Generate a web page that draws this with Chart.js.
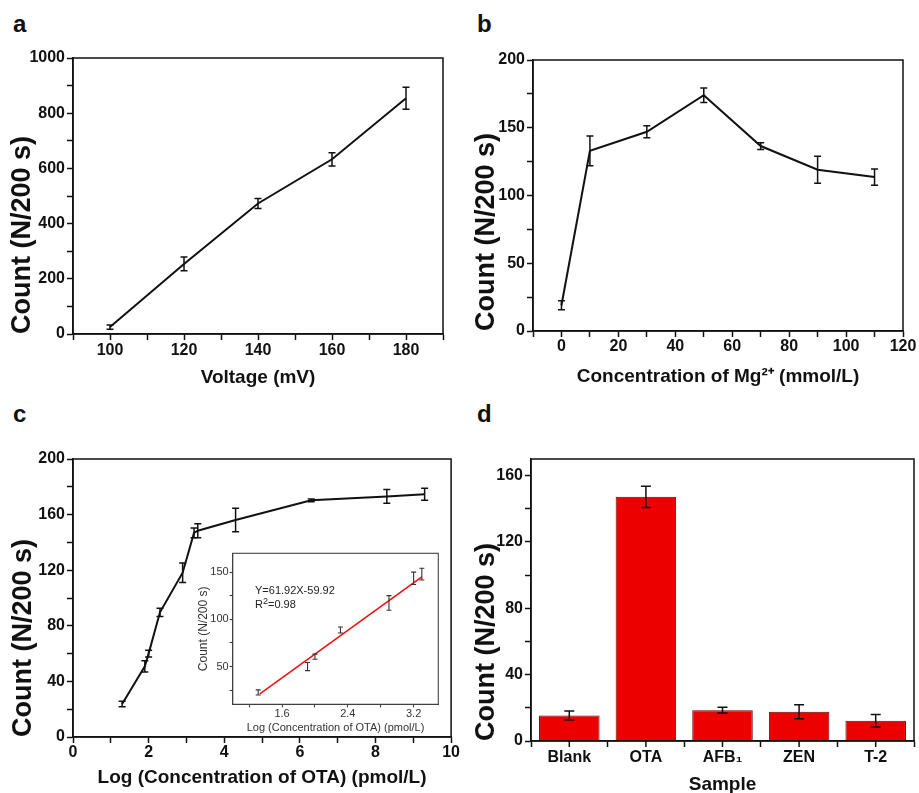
<!DOCTYPE html>
<html lang="en">
<head>
<meta charset="UTF-8">
<title>Count panels</title>
<script src="https://cdn.jsdelivr.net/npm/chart.js"></script>
<style>
  body { margin: 0; background: #fff; width: 919px; height: 793px; overflow: hidden; position: relative;
         font-family: 'Liberation Sans', Arial, sans-serif; }
  canvas { position: absolute; }
  .tag { position: absolute; font-size: 24px; font-weight: bold; line-height: 24px; color: #111; }
  .eq { position: absolute; font-size: 11px; line-height: 13px; color: #222; white-space: nowrap; }
  .eq span { font-size: 9px; position: relative; top: -4px; }
</style>
</head>
<body>
<div class="tag" style="left:13px;top:12px">a</div>
<div class="tag" style="left:477px;top:12px">b</div>
<div class="tag" style="left:13px;top:402px">c</div>
<div class="tag" style="left:477px;top:402px">d</div>

<canvas id="chartA" style="left:0;top:0" width="460" height="400"></canvas>
<canvas id="chartB" style="left:460px;top:0" width="459" height="400"></canvas>
<canvas id="chartC" style="left:0;top:400px" width="460" height="400"></canvas>
<canvas id="chartD" style="left:460px;top:400px" width="459" height="400"></canvas>
<canvas id="chartInset" style="left:170px;top:540px" width="275" height="210"></canvas>

<div class="eq" style="left:255px;top:584px">Y=61.92X-59.92</div>
<div class="eq" style="left:255px;top:598px">R<span>2</span>=0.98</div>

<script>
// ---- panel a : voltage ----
const voltage = [100, 120, 140, 160, 180];
const countA = [25, 254, 473, 633, 854];
const errA = [8, 25, 18, 24, 40];
const aXTicks = [90, 100, 110, 120, 130, 140, 150, 160, 170, 180, 190];
const aXLabels = [100, 120, 140, 160, 180];
const aYTicks = [0, 100, 200, 300, 400, 500, 600, 700, 800, 900, 1000];
const aYLabels = [0, 200, 400, 600, 800, 1000];

// ---- panel b : Mg2+ ----
const mgConc = [0, 10, 30, 50, 70, 90, 110];
const countB = [19, 133, 147, 174, 136.5, 119, 113.6];
const errB = [3.4, 11, 4.4, 5.3, 2.5, 10, 6];
const bXTicks = [-10, 0, 10, 20, 30, 40, 50, 60, 70, 80, 90, 100, 110, 120];
const bXLabels = [0, 20, 40, 60, 80, 100, 120];
const bYTicks = [0, 25, 50, 75, 100, 125, 150, 175, 200];
const bYLabels = [0, 50, 100, 150, 200];

// ---- panel c : OTA ----
const logOta = [1.3, 1.9, 2.0, 2.3, 2.9, 3.2, 3.3, 4.3, 6.3, 8.3, 9.3];
const countC = [23.7, 50.8, 60, 89.7, 118.2, 146.8, 148.4, 156.1, 170.3, 173.1, 174.6];
const errC = [2, 4, 2.5, 3, 7, 3.5, 5, 8.4, 1, 5, 4.3];
const cXTicks = [0, 1, 2, 3, 4, 5, 6, 7, 8, 9, 10];
const cXLabels = [0, 2, 4, 6, 8, 10];
const cYTicks = [0, 20, 40, 60, 80, 100, 120, 140, 160, 180, 200];
const cYLabels = [0, 40, 80, 120, 160, 200];

// inset of c
const insetX = [1.31, 1.91, 2.0, 2.31, 2.9, 3.2, 3.3];
const insetY = [22.6, 50, 60.5, 88.7, 117.4, 143.5, 147.9];
const insetErr = [2.7, 4.3, 2.7, 3.2, 7.8, 6.6, 6.2];
const fitX = [1.33, 3.3];
const fitY = [21, 145];
const iXTicks = [1.2, 1.6, 2.0, 2.4, 2.8, 3.2];
const iXLabels = [1.6, 2.4, 3.2];
const iYTicks = [25, 50, 75, 100, 125, 150];
const iYLabels = [50, 100, 150];

// ---- panel d : samples ----
const samples = ['Blank', 'OTA', 'AFB₁', 'ZEN', 'T-2'];
const countD = [15.4, 147.2, 18.6, 17.6, 12.2];
const errD = [2.7, 6.4, 1.7, 4.2, 3.7];
const dYTicks = [0, 20, 40, 60, 80, 100, 120, 140, 160];
const dYLabels = [0, 40, 80, 120, 160];

const FONT = "'Liberation Sans', Arial, sans-serif";
const INK = '#111';

// error bars drawn from the dataset elements + y scale
const errorBars = {
  id: 'errorBars',
  afterDatasetsDraw(chart, args, opts) {
    if (!opts.err) return;
    const ctx = chart.ctx;
    const ys = chart.scales.y;
    const meta = chart.getDatasetMeta(0);
    const vals = chart.data.datasets[0].data;
    ctx.save();
    ctx.strokeStyle = opts.color || INK;
    ctx.lineWidth = opts.width || 1.5;
    meta.data.forEach((el, i) => {
      const v = typeof vals[i] === 'object' ? vals[i].y : vals[i];
      const e = opts.err[i];
      const x = el.x;
      const y1 = ys.getPixelForValue(v - e), y2 = ys.getPixelForValue(v + e);
      const c = opts.cap || 3.5;
      ctx.beginPath();
      ctx.moveTo(x, y1); ctx.lineTo(x, y2);
      ctx.moveTo(x - c, y1); ctx.lineTo(x + c, y1);
      ctx.moveTo(x - c, y2); ctx.lineTo(x + c, y2);
      ctx.stroke();
    });
    ctx.restore();
  }
};

// box round the plot area, plus tick marks under bar centres
const frame = {
  id: 'frame',
  afterDraw(chart, args, opts) {
    const a = chart.chartArea, ctx = chart.ctx;
    ctx.save();
    ctx.strokeStyle = opts.color || INK;
    ctx.lineWidth = opts.width || 1.5;
    ctx.strokeRect(a.left, a.top, a.right - a.left, a.bottom - a.top);
    if (opts.centreTicks) {
      ctx.beginPath();
      chart.getDatasetMeta(0).data.forEach(el => {
        ctx.moveTo(el.x, a.bottom); ctx.lineTo(el.x, a.bottom + 6);
      });
      ctx.stroke();
    }
    ctx.restore();
  }
};

function near(list, v) { return list.some(l => Math.abs(l - v) < 1e-6); }

function axis(o) {
  const sc = {
    type: o.type || 'linear',
    offset: !!o.offset,
    afterFit: s => { if (o.w) s.width = o.w; if (o.h) s.height = o.h; },
    border: { display: true, color: o.ink || INK, width: o.lw || 1.5 },
    grid: { drawOnChartArea: false, drawTicks: true, offset: !!o.offset, tickLength: o.tl || 6,
            color: o.ink || INK, tickWidth: o.lw || 1.5 },
    ticks: {
      color: o.ink || INK, padding: o.pad || 0, maxRotation: 0, autoSkip: false,
      font: { family: FONT, size: o.fs || 16, weight: o.fw || 'bold' }
    },
    title: {
      display: true, text: o.title, color: o.ink || INK, align: o.align || 'center',
      font: { family: FONT, size: o.tfs, weight: o.tfw || 'bold', lineHeight: 1.2 },
      padding: o.tpad
    }
  };
  if (o.min !== undefined) { sc.min = o.min; sc.max = o.max; }
  if (o.ticks) sc.afterBuildTicks = s => { s.ticks = o.ticks.map(v => ({ value: v })); };
  if (o.labels) sc.ticks.callback = v => near(o.labels, v) ? String(Math.round(v * 10) / 10) : '';
  return sc;
}

function lineChart(id, xs, ys, err, pad, sx, sy) {
  return new Chart(document.getElementById(id), {
    type: 'scatter',
    data: { datasets: [{ data: xs.map((x, i) => ({ x: x, y: ys[i] })), showLine: true,
      borderColor: INK, borderWidth: 2, pointRadius: 0, tension: 0 }] },
    options: {
      responsive: false, animation: false, layout: { padding: pad },
      plugins: { legend: { display: false }, tooltip: { enabled: false },
                 errorBars: { err: err, cap: 3.5 }, frame: {} },
      scales: { x: axis(sx), y: axis(sy) }
    },
    plugins: [errorBars, frame]
  });
}

lineChart('chartA', voltage, countA, errA, { top: 58, right: 17, left: 0, bottom: 0 },
  { min: 90, max: 190, ticks: aXTicks, labels: aXLabels, h: 66, pad: 1,
    title: 'Voltage (mV)', tfs: 19, tpad: { top: 0, bottom: 10.6 } },
  { min: 0, max: 1000, ticks: aYTicks, labels: aYLabels, w: 73, pad: 2,
    title: 'Count (N/200 s)', tfs: 27, align: 'start', tpad: { top: 6.3, bottom: 0 } });

lineChart('chartB', mgConc, countB, errB, { top: 60, right: 16, left: 0, bottom: 0 },
  { min: -10, max: 120, ticks: bXTicks, labels: bXLabels, h: 69, pad: 0,
    title: 'Concentration of Mg²⁺ (mmol/L)', tfs: 19, tpad: { top: 0, bottom: 12 } },
  { min: 0, max: 200, ticks: bYTicks, labels: bYLabels, w: 73, pad: 2,
    title: 'Count (N/200 s)', tfs: 27, align: 'start', tpad: { top: 10.8, bottom: 0 } });

lineChart('chartC', logOta, countC, errC, { top: 59, right: 8, left: 0, bottom: 0 },
  { min: 0, max: 10, ticks: cXTicks, labels: cXLabels, h: 63, pad: 0,
    title: 'Log (Concentration of OTA) (pmol/L)', tfs: 19, tpad: { top: 0, bottom: 10.6 } },
  { min: 0, max: 200, ticks: cYTicks, labels: cYLabels, w: 73, pad: 2,
    title: 'Count (N/200 s)', tfs: 27, align: 'start', tpad: { top: 7.8, bottom: 0 } });

// inset: points with error bars and the red fit line
new Chart(document.getElementById('chartInset'), {
  type: 'scatter',
  data: { datasets: [
    { data: insetX.map((x, i) => ({ x: x, y: insetY[i] })), pointRadius: 0, showLine: false },
    { data: fitX.map((x, i) => ({ x: x, y: fitY[i] })), showLine: true, borderColor: '#ee1111',
      borderWidth: 1.6, pointRadius: 0 }
  ] },
  options: {
    responsive: false, animation: false,
    layout: { padding: { top: 13.3, right: 6.7, left: 0, bottom: 0 } },
    plugins: { legend: { display: false }, tooltip: { enabled: false },
               errorBars: { err: insetErr, cap: 2.5, width: 1.1, color: '#333' },
               frame: { width: 1.1, color: '#444' } },
    scales: {
      x: axis({ min: 1.0, max: 3.5, ticks: iXTicks, labels: iXLabels, h: 45.7, pad: 0.4, tl: 3,
                fs: 11, fw: 'normal', lw: 1.1, ink: '#333',
                title: 'Log (Concentration of OTA) (pmol/L)', tfs: 11, tfw: 'normal',
                tpad: { top: 0, bottom: 15 } }),
      y: axis({ min: 10, max: 170, ticks: iYTicks, labels: iYLabels, w: 62.7, pad: 1, tl: 3,
                fs: 11, fw: 'normal', lw: 1.1, ink: '#333',
                title: 'Count (N/200 s)', tfs: 12, tfw: 'normal', tpad: { top: 26.8, bottom: 0 } })
    }
  },
  plugins: [errorBars, frame]
});

// panel d bars
new Chart(document.getElementById('chartD'), {
  type: 'bar',
  data: { labels: samples, datasets: [{ data: countD, backgroundColor: '#ec0000',
    borderColor: '#6a0000', borderWidth: 1, barPercentage: 0.79, categoryPercentage: 1 }] },
  options: {
    responsive: false, animation: false,
    layout: { padding: { top: 59, right: 5, left: 0, bottom: 0 } },
    plugins: { legend: { display: false }, tooltip: { enabled: false },
               errorBars: { err: errD, cap: 5 }, frame: { centreTicks: true } },
    scales: {
      x: axis({ type: 'category', offset: true, h: 59, pad: 1,
                title: 'Sample', tfs: 19, tpad: { top: 0, bottom: 3.6 } }),
      y: axis({ min: 0, max: 170, ticks: dYTicks, labels: dYLabels, w: 71, pad: 2,
                title: 'Count (N/200 s)', tfs: 27, align: 'start', tpad: { top: 10.8, bottom: 0 } })
    }
  },
  plugins: [errorBars, frame]
});
</script>
</body>
</html>
